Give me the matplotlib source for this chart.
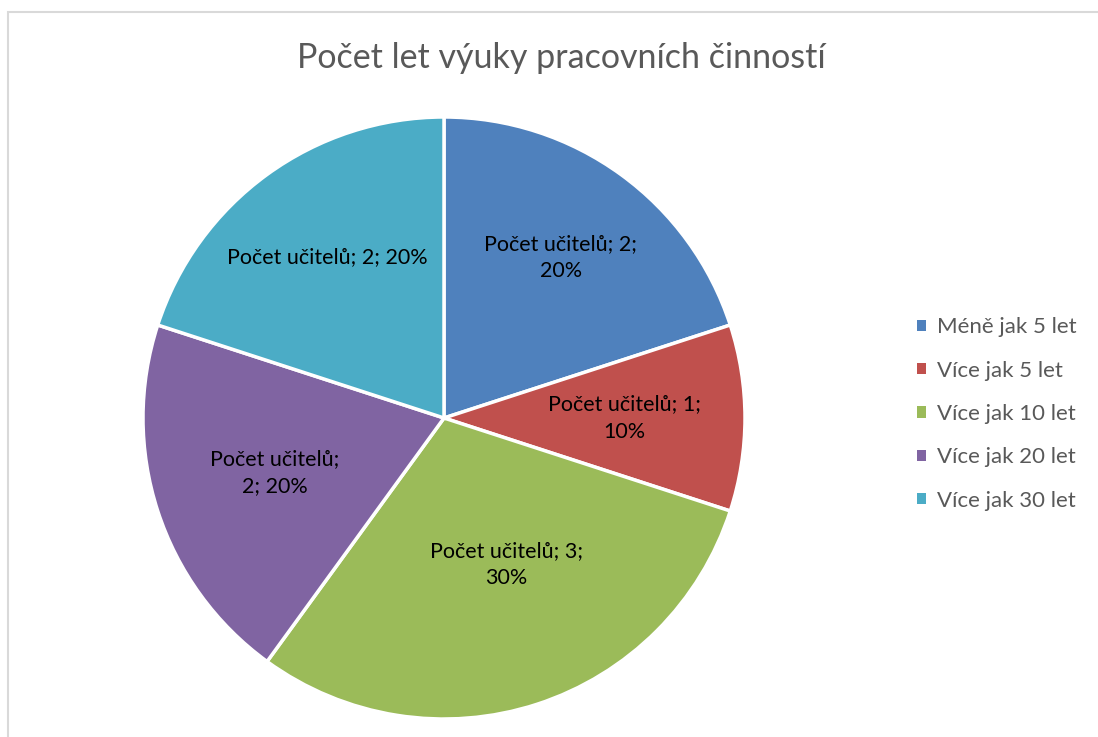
import numpy as np
import matplotlib.pyplot as plt
from matplotlib.patches import Rectangle

plt.rcParams['font.family'] = ['Lato', 'DejaVu Sans']

categories = ['Méně jak 5 let', 'Více jak 5 let', 'Více jak 10 let', 'Více jak 20 let', 'Více jak 30 let']
counts = [2, 1, 3, 2, 2]
series_name = 'Počet učitelů'
colors = ['#4F81BD', '#C0504D', '#9BBB59', '#8064A2', '#4BACC6']
# line layout of each data label, as placed by the original chart
label_formats = ['{s}; {v};\n{p}%', '{s}; {v};\n{p}%', '{s}; {v};\n{p}%',
                 '{s};\n{v}; {p}%', '{s}; {v}; {p}%']
label_dist = [0.66, 0.60, 0.53, 0.59, 0.66]
label_turn = [0, 0, 5, 0, 0]  # degrees off the slice middle

W, H = 1098, 737
fig = plt.figure(figsize=(W / 100, H / 100), dpi=100)

# chart area border (only top and left edges visible)
fig.patches.append(Rectangle((8 / W, -0.2), 1.5, 1.2 - 12 / H, transform=fig.transFigure,
                             fill=False, edgecolor='#D9D9D9', linewidth=1.5))

cx, cy, r = 444, 418, 301
ax = fig.add_axes([(cx - r) / W, (H - cy - r) / H, 2 * r / W, 2 * r / H])
wedges, _ = ax.pie(counts, colors=colors, startangle=90, counterclock=False,
                   radius=1, wedgeprops=dict(edgecolor='white', linewidth=2.5))
ax.set_xlim(-1, 1)
ax.set_ylim(-1, 1)
ax.axis('off')

total = sum(counts)
for w, v, fmt, d, t in zip(wedges, counts, label_formats, label_dist, label_turn):
    ang = np.deg2rad((w.theta1 + w.theta2) / 2 + t)
    txt = fmt.format(s=series_name, v=v, p=round(100 * v / total))
    ax.text(d * np.cos(ang), d * np.sin(ang), txt, ha='center', va='center',
            fontsize=15.5, color='black', linespacing=1.45)

fig.text(561 / W, 1 - 58 / H, 'Počet let výuky pracovních činností', ha='center', va='center',
         fontsize=24.5, color='#595959')

leg = fig.legend(wedges, categories, loc='center left', bbox_to_anchor=(917 / W, 1 - 414 / H),
                 frameon=False, fontsize=16, handlelength=0.42, handleheight=0.42,
                 handletextpad=0.5, labelspacing=1.05, borderaxespad=0, borderpad=0)
for t in leg.get_texts():
    t.set_color('#595959')
for h in leg.legend_handles:
    h.set_edgecolor('none')

fig.savefig('out.png', dpi=100)
